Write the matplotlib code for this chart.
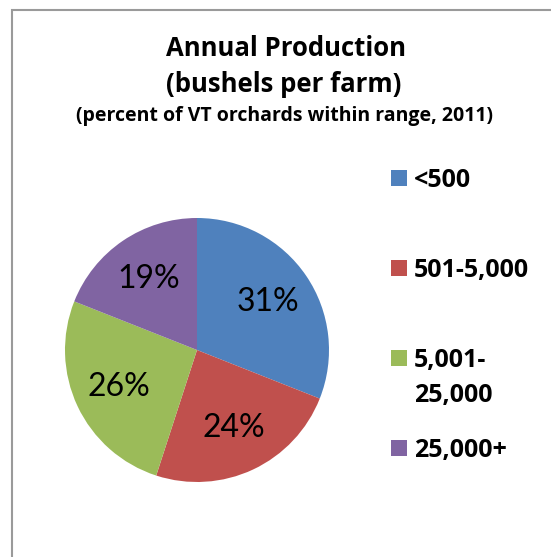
import matplotlib.pyplot as plt
from matplotlib.patches import Rectangle

categories = ['<500', '501-5,000', '5,001-\n25,000', '25,000+']
shares = [31, 24, 26, 19]
colors = ['#4F81BD', '#C0504D', '#9BBB59', '#8064A2']

W, H = 551, 557
plt.rcParams['font.family'] = ['Lato', 'DejaVu Sans']
BOLD = ['Open Sans', 'DejaVu Sans']

fig = plt.figure(figsize=(W / 100, H / 100), dpi=100)

# chart frame (only the left and top edges are visible in the crop)
fig.add_artist(Rectangle((12 / W, -0.1), 2.0, (H - 10) / H + 0.1,
                         transform=fig.transFigure, fill=False,
                         edgecolor='#9a9a9a', linewidth=1.5))

# titles
fig.text(286 / W, 1 - 49 / H, 'Annual Production', ha='center', va='center',
         fontsize=18.5, fontweight='bold', family=BOLD)
fig.text(284 / W, 1 - 84 / H, '(bushels per farm)', ha='center', va='center',
         fontsize=18.5, fontweight='bold', family=BOLD)
fig.text(284 / W, 1 - 116 / H, '(percent of VT orchards within range, 2011)',
         ha='center', va='center', fontsize=14, fontweight='bold', family=BOLD)

# pie: centre (197, 350) px, radius 132 px
cx, cy, r = 197, 350, 132
ax = fig.add_axes([(cx - r) / W, 1 - (cy + r) / H, 2 * r / W, 2 * r / H])
wedges, texts = ax.pie(shares, colors=colors, startangle=90, counterclock=False,
                       labels=[f'{s}%' for s in shares], labeldistance=0.65,
                       wedgeprops=dict(linewidth=0))
for t in texts:
    t.set_fontsize(23)
    t.set_ha('center')
    t.set_va('center')
ax.set_xlim(-1, 1)
ax.set_ylim(-1, 1)
ax.axis('off')

# legend
leg_y = [178, 268, 358, 448]
for lab, col, y in zip(categories, colors, leg_y):
    fig.add_artist(Rectangle((391 / W, 1 - (y + 8) / H), 16 / W, 16 / H,
                             transform=fig.transFigure, facecolor=col,
                             edgecolor='none'))
    for i, line in enumerate(lab.split('\n')):
        fig.text(414 / W, 1 - (y + 9 + 35 * i) / H, line, ha='left',
                 va='baseline', fontsize=18, fontweight='bold', family=BOLD)

fig.savefig('out.png', dpi=100, facecolor='white')
